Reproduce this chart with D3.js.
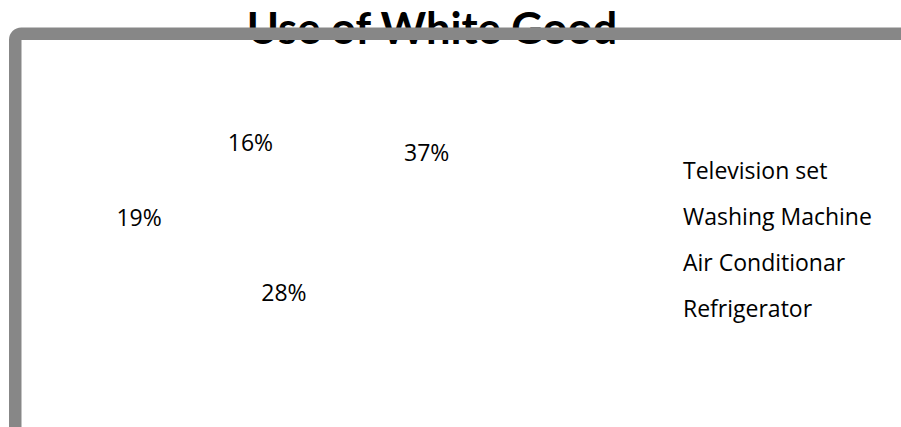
<!DOCTYPE html>
<html>
<head>
<meta charset="utf-8">
<script src="https://cdn.jsdelivr.net/npm/d3@7"></script>
<style>
  html, body { margin: 0; padding: 0; background: #fff; }
  svg { display: block; }
</style>
</head>
<body>
<svg id="chart" width="901" height="427"></svg>
<script>
// Share of households using each white good (%)
const categories = ["Television set", "Washing Machine", "Air Conditionar", "Refrigerator"];
const shares = [37, 28, 19, 16];
const chartTitle = "Use of White Good";

const svg = d3.select("#chart");

// Title sits behind the chart frame, which is drawn over it afterwards
svg.append("text")
  .attr("x", 432)
  .attr("y", 44)
  .attr("text-anchor", "middle")
  .style("font-family", "Lato, 'Open Sans', sans-serif")
  .style("font-weight", 700)
  .style("font-size", "43.5px")
  .attr("fill", "#000")
  .text(chartTitle);

// Chart frame (runs past the right and bottom edges)
svg.append("rect")
  .attr("x", 15.25)
  .attr("y", 33.75)
  .attr("width", 1000)
  .attr("height", 600)
  .attr("rx", 6)
  .attr("fill", "none")
  .attr("stroke", "#878787")
  .attr("stroke-width", 12.5);

// Pie with plain white slices
const cx = 289, cy = 213, radius = 160;
const color = d3.scaleOrdinal().domain(categories).range(["#ffffff", "#ffffff", "#ffffff", "#ffffff"]);

const pie = d3.pie().value(d => d.value).sort(null);
const arcs = pie(categories.map((c, i) => ({ name: c, value: shares[i] })));

const arc = d3.arc().innerRadius(0).outerRadius(radius);
// Labels are staggered between two rings so neighbours do not collide
const outerLabelArc = d3.arc().innerRadius(150).outerRadius(150);
const innerLabelArc = d3.arc().innerRadius(80).outerRadius(80);

const g = svg.append("g").attr("transform", `translate(${cx},${cy})`);

g.selectAll("path.slice")
  .data(arcs)
  .join("path")
  .attr("class", "slice")
  .attr("d", arc)
  .attr("fill", d => color(d.data.name));

const total = d3.sum(shares);
g.selectAll("text.pct")
  .data(arcs)
  .join("text")
  .attr("class", "pct")
  .attr("transform", (d, i) => `translate(${(i % 2 === 0 ? outerLabelArc : innerLabelArc).centroid(d)})`)
  .attr("text-anchor", "middle")
  .attr("dy", "0.35em")
  .style("font-family", "'Open Sans', sans-serif")
  .style("font-size", "23px")
  .attr("fill", "#000")
  .text(d => d3.format(".0%")(d.data.value / total));

// Legend
const legendY = d3.scalePoint().domain(categories).range([171, 309]);
const legend = svg.append("g")
  .selectAll("g")
  .data(categories)
  .join("g")
  .attr("transform", d => `translate(683,${legendY(d)})`);

legend.append("rect")
  .attr("x", -16)
  .attr("y", -5)
  .attr("width", 10)
  .attr("height", 10)
  .attr("fill", d => color(d));

legend.append("text")
  .attr("x", 0)
  .attr("dy", "0.35em")
  .style("font-family", "'Open Sans', sans-serif")
  .style("font-size", "23px")
  .attr("fill", "#000")
  .text(d => d);
</script>
</body>
</html>
